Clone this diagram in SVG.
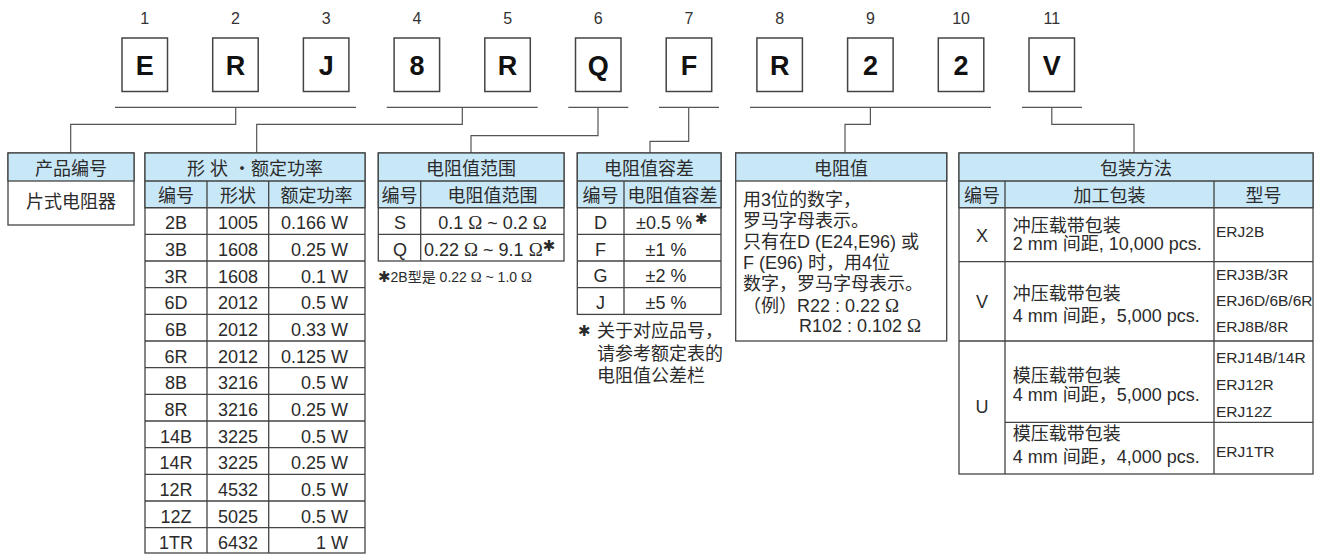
<svg xmlns="http://www.w3.org/2000/svg" width="1322" height="554" viewBox="0 0 1322 554">
<style>
text{font-family:"Liberation Sans","Noto Sans CJK SC",sans-serif;fill:#2b2b2b;font-size:18px}
.n{font-size:16px;text-anchor:middle;fill:#333}
.L{font-size:27px;font-weight:bold;text-anchor:middle;fill:#111}
.c{text-anchor:middle}
.e{text-anchor:end}
.s{font-size:15.5px}
.fn{font-size:14px}
.om{font-family:"Liberation Serif",serif;font-size:1.05em}
.ast{font-family:"DejaVu Sans",sans-serif;font-weight:bold;font-size:15px}
.box{fill:#fff;stroke:#444;stroke-width:1.5}
.hd{fill:#c8e7f7;stroke:#444;stroke-width:1.3}
.tb{fill:#fff;stroke:#444;stroke-width:1.3}
.g{stroke:#444;stroke-width:1.3;fill:none}
.con{stroke:#555;stroke-width:1.2;fill:none}
</style>
<rect width="1322" height="554" fill="#fff"/>

<g id="code-boxes">
<g id="code-1"><text class="n" x="144.8" y="24">1</text><rect class="box" x="122" y="38" width="45.5" height="53.5"/><text class="L" x="144.8" y="75">E</text></g>
<g id="code-2"><text class="n" x="235.5" y="24">2</text><rect class="box" x="212.7" y="38" width="45.5" height="53.5"/><text class="L" x="235.5" y="75">R</text></g>
<g id="code-3"><text class="n" x="326.2" y="24">3</text><rect class="box" x="303.4" y="38" width="45.5" height="53.5"/><text class="L" x="326.2" y="75">J</text></g>
<g id="code-4"><text class="n" x="416.9" y="24">4</text><rect class="box" x="394.1" y="38" width="45.5" height="53.5"/><text class="L" x="416.9" y="75">8</text></g>
<g id="code-5"><text class="n" x="507.6" y="24">5</text><rect class="box" x="484.8" y="38" width="45.5" height="53.5"/><text class="L" x="507.6" y="75">R</text></g>
<g id="code-6"><text class="n" x="598.3" y="24">6</text><rect class="box" x="575.5" y="38" width="45.5" height="53.5"/><text class="L" x="598.3" y="75">Q</text></g>
<g id="code-7"><text class="n" x="689" y="24">7</text><rect class="box" x="666.2" y="38" width="45.5" height="53.5"/><text class="L" x="689" y="75">F</text></g>
<g id="code-8"><text class="n" x="779.7" y="24">8</text><rect class="box" x="756.9" y="38" width="45.5" height="53.5"/><text class="L" x="779.7" y="75">R</text></g>
<g id="code-9"><text class="n" x="870.4" y="24">9</text><rect class="box" x="847.6" y="38" width="45.5" height="53.5"/><text class="L" x="870.4" y="75">2</text></g>
<g id="code-10"><text class="n" x="961.1" y="24">10</text><rect class="box" x="938.3" y="38" width="45.5" height="53.5"/><text class="L" x="961.1" y="75">2</text></g>
<g id="code-11"><text class="n" x="1051.8" y="24">11</text><rect class="box" x="1029" y="38" width="45.5" height="53.5"/><text class="L" x="1051.8" y="75">V</text></g>
</g>

<g id="connectors">
<path class="con" d="M115 107.3H356 M386.7 107.3H537.7 M568.3 107.3H628.3 M659 107.3H719 M750 107.3H991 M1022 107.3H1082"/>
<path class="con" d="M235.7 107.3V124.3H70.7V153"/>
<path class="con" d="M462.3 107.3V124.3H256.7V153"/>
<path class="con" d="M598 107.3V135.7H471V153"/>
<path class="con" d="M688.7 107.3V141.3H650V153"/>
<path class="con" d="M870.4 107.3V124.3H845V153"/>
<path class="con" d="M1051.8 107.3V124.3H1134V153"/>
</g>

<g id="product-code">
<rect class="tb" x="8" y="153" width="126" height="72"/>
<rect class="hd" x="8" y="153" width="126" height="28"/>
<text class="c" x="71" y="174.5">产品编号</text>
<text class="c" x="71" y="208">片式电阻器</text>
</g>

<g id="shape-power">
<rect class="tb" x="145" y="153" width="220" height="400"/>
<rect class="hd" x="145" y="153" width="220" height="54.7"/>
<path class="g" d="M145 181H365 M145 207.7H365 M145 234.4H365 M145 261H365 M145 287.7H365 M145 314.4H365 M145 341H365 M145 367.7H365 M145 394.4H365 M145 421H365 M145 447.7H365 M145 474.4H365 M145 501H365 M145 527.7H365 M207 181V553 M268.7 181V553"/>
<text class="c" x="255" y="174.5">形 状 ・额定功率</text>
<text class="c" x="176" y="201.5">编号</text>
<text class="c" x="238" y="201.5">形状</text>
<text class="c" x="316.5" y="201.5">额定功率</text>
<text class="c" x="176" y="229.3">2B</text><text class="c" x="238" y="229.3">1005</text><text class="e" x="348" y="229.3">0.166 W</text>
<text class="c" x="176" y="256">3B</text><text class="c" x="238" y="256">1608</text><text class="e" x="348" y="256">0.25 W</text>
<text class="c" x="176" y="282.6">3R</text><text class="c" x="238" y="282.6">1608</text><text class="e" x="348" y="282.6">0.1 W</text>
<text class="c" x="176" y="309.3">6D</text><text class="c" x="238" y="309.3">2012</text><text class="e" x="348" y="309.3">0.5 W</text>
<text class="c" x="176" y="336">6B</text><text class="c" x="238" y="336">2012</text><text class="e" x="348" y="336">0.33 W</text>
<text class="c" x="176" y="362.6">6R</text><text class="c" x="238" y="362.6">2012</text><text class="e" x="348" y="362.6">0.125 W</text>
<text class="c" x="176" y="389.3">8B</text><text class="c" x="238" y="389.3">3216</text><text class="e" x="348" y="389.3">0.5 W</text>
<text class="c" x="176" y="416">8R</text><text class="c" x="238" y="416">3216</text><text class="e" x="348" y="416">0.25 W</text>
<text class="c" x="176" y="442.6">14B</text><text class="c" x="238" y="442.6">3225</text><text class="e" x="348" y="442.6">0.5 W</text>
<text class="c" x="176" y="469.3">14R</text><text class="c" x="238" y="469.3">3225</text><text class="e" x="348" y="469.3">0.25 W</text>
<text class="c" x="176" y="496">12R</text><text class="c" x="238" y="496">4532</text><text class="e" x="348" y="496">0.5 W</text>
<text class="c" x="176" y="522.6">12Z</text><text class="c" x="238" y="522.6">5025</text><text class="e" x="348" y="522.6">0.5 W</text>
<text class="c" x="176" y="549.3">1TR</text><text class="c" x="238" y="549.3">6432</text><text class="e" x="348" y="549.3">1 W</text>
</g>

<g id="resistance-range">
<rect class="tb" x="378.3" y="153" width="185.7" height="108"/>
<rect class="hd" x="378.3" y="153" width="185.7" height="54.7"/>
<path class="g" d="M378.3 181H564 M378.3 207.7H564 M378.3 234.4H564 M420.7 181V261"/>
<text class="c" x="471" y="174.5">电阻值范围</text>
<text class="c" x="399.5" y="201.5">编号</text>
<text class="c" x="492.5" y="201.5">电阻值范围</text>
<text class="c" x="400" y="229">S</text>
<text class="c" x="492.5" y="229">0.1 <tspan class="om">Ω</tspan> ~ 0.2 <tspan class="om">Ω</tspan></text>
<text class="c" x="400" y="255.7">Q</text>
<text x="424" y="255.7">0.22 <tspan class="om">Ω</tspan> ~ 9.1 <tspan class="om">Ω</tspan><tspan class="ast" dy="-5">✱</tspan></text>
<text class="fn" x="378" y="281.7"><tspan class="ast" font-size="13px">✱</tspan>2B型是 0.22 <tspan class="om">Ω</tspan> ~ 1.0 <tspan class="om">Ω</tspan></text>
</g>

<g id="tolerance">
<rect class="tb" x="577.3" y="153" width="143.7" height="161.4"/>
<rect class="hd" x="577.3" y="153" width="143.7" height="54.7"/>
<path class="g" d="M577.3 181H721 M577.3 207.7H721 M577.3 234.4H721 M577.3 261H721 M577.3 287.7H721 M624 181V314.4"/>
<text class="c" x="649" y="174.5">电阻值容差</text>
<text class="c" x="600.5" y="201.5">编号</text>
<text class="c" x="672.5" y="201.5">电阻值容差</text>
<text class="c" x="600.5" y="229">D</text>
<text x="636" y="229">±0.5 %<tspan class="ast" dx="3" dy="-5">✱</tspan></text>
<text class="c" x="600.5" y="255.7">F</text><text class="c" x="666" y="255.7">±1 %</text>
<text class="c" x="600.5" y="282.4">G</text><text class="c" x="666" y="282.4">±2 %</text>
<text class="c" x="600.5" y="309">J</text><text class="c" x="666" y="309">±5 %</text>
<text class="ast" x="578" y="336">✱</text>
<text x="597" y="336.7">关于对应品号，</text>
<text x="597" y="359.5">请参考额定表的</text>
<text x="597" y="382">电阻值公差栏</text>
</g>

<g id="resistance-value">
<rect class="tb" x="735.7" y="153" width="211" height="188"/>
<rect class="hd" x="735.7" y="153" width="211" height="28"/>
<text class="c" x="841" y="174.5">电阻值</text>
<text x="743" y="205.7">用3位的数字，</text>
<text x="743" y="227">罗马字母表示。</text>
<text x="743" y="247.5">只有在D (E24,E96) 或</text>
<text x="743" y="268.5">F (E96) 时，用4位</text>
<text x="743" y="290">数字，罗马字母表示。</text>
<text x="743" y="311.5">（例）R22 : 0.22 <tspan class="om">Ω</tspan></text>
<text x="799" y="331.7">R102 : 0.102 <tspan class="om">Ω</tspan></text>
</g>

<g id="packaging">
<rect class="tb" x="959" y="153" width="354" height="321"/>
<rect class="hd" x="959" y="153" width="354" height="54.7"/>
<path class="g" d="M959 181H1313 M959 207.7H1313 M959 261.7H1313 M959 341H1313 M1005 422.3H1313 M1005 181V474 M1214 181V474"/>
<text class="c" x="1136" y="174.5">包装方法</text>
<text class="c" x="982" y="201.5">编号</text>
<text class="c" x="1109.5" y="201.5">加工包装</text>
<text class="c" x="1263.5" y="201.5">型号</text>
<text class="c" x="982" y="241.7">X</text>
<text x="1012.7" y="231.7">冲压载带包装</text>
<text x="1012.7" y="250">2 mm 间距, 10,000 pcs.</text>
<text class="s" x="1216" y="236.7">ERJ2B</text>
<text class="c" x="982" y="307.5">V</text>
<text x="1012.7" y="300">冲压载带包装</text>
<text x="1012.7" y="321.7">4 mm 间距，5,000 pcs.</text>
<text class="s" x="1216" y="280">ERJ3B/3R</text>
<text class="s" x="1216" y="306">ERJ6D/6B/6R</text>
<text class="s" x="1216" y="331.7">ERJ8B/8R</text>
<text class="c" x="982" y="413">U</text>
<text x="1012.7" y="381.7">模压载带包装</text>
<text x="1012.7" y="400.5">4 mm 间距，5,000 pcs.</text>
<text class="s" x="1216" y="363.3">ERJ14B/14R</text>
<text class="s" x="1216" y="390">ERJ12R</text>
<text class="s" x="1216" y="416.5">ERJ12Z</text>
<text x="1012.7" y="440">模压载带包装</text>
<text x="1012.7" y="463.3">4 mm 间距，4,000 pcs.</text>
<text class="s" x="1216" y="456.7">ERJ1TR</text>
</g>
</svg>
